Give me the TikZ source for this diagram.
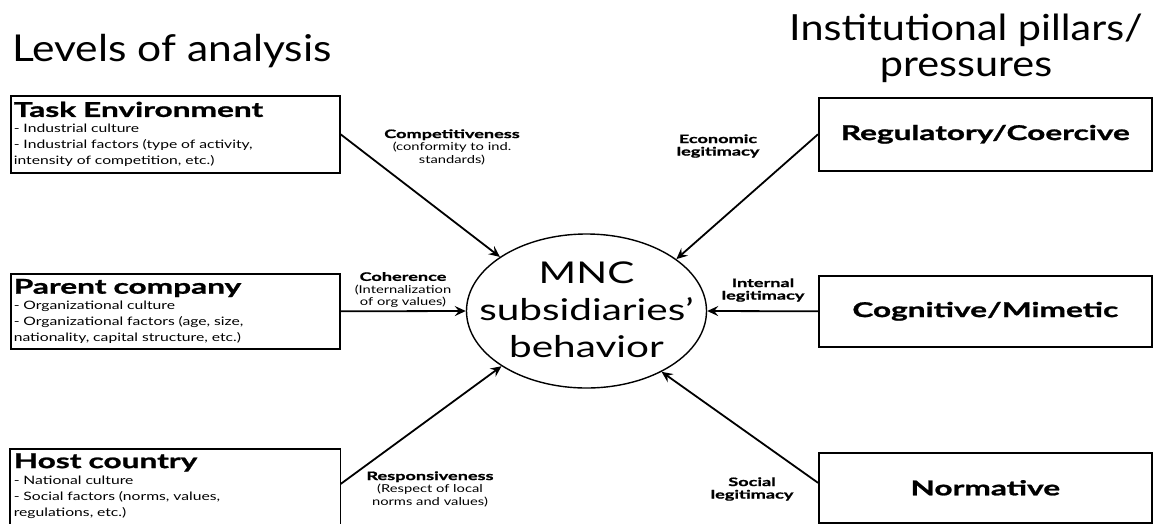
\documentclass[tikz,border=0pt]{standalone}
\usepackage{fontspec}
\setmainfont{Lato}
\newfontfamily\wide[FakeStretch=1.35]{Lato}
\newfontfamily\ttl[FakeStretch=1.15]{Lato}
\newfontfamily\heavy[FakeStretch=1.55,FakeBold=1.2]{Lato}
\usetikzlibrary{arrows.meta,shapes.geometric}
\begin{document}
\begin{tikzpicture}[x=1pt,y=-1pt,
  boxline/.style={draw=black,line width=1.6pt},
  lbox/.style={boxline,anchor=north west,minimum width=329pt,text width=323pt,inner xsep=3pt,inner ysep=0pt,align=left,font=\wide\fontsize{11.6}{16}\selectfont},
  rbox/.style={boxline,anchor=north west,minimum width=333pt,inner sep=0pt,font=\heavy\bfseries\fontsize{20.4}{20}\selectfont},
  lab/.style={align=center,inner sep=0pt,font=\wide\fontsize{10.9}{12.5}\selectfont},
  blab/.style={lab,font=\heavy\bfseries\fontsize{11.7}{12.5}\selectfont},
  title/.style={inner sep=0pt,anchor=base,font=\ttl\fontsize{36}{33}\selectfont},
  arr/.style={line width=1.8pt,-{Stealth[length=11pt,width=10pt,inset=4pt]}}]
\newcommand\hd[1]{{\heavy\bfseries\fontsize{20.4}{16}\selectfont #1}}
\newcommand\bl[1]{{\heavy\bfseries\fontsize{11.7}{12.5}\selectfont #1}}
\newcommand\hsp{\hspace{7pt}}
\useasboundingbox (0,0) rectangle (1153,523);
% titles
\node[title,anchor=base west,font=\ttl\fontsize{37}{33}\selectfont] (t1) at (12,61) {Levels of analysis};
\node[title] (t2a) at (966,40) {Institutional pillars/};
\node[title] (t2b) at (966,76) {pressures};
% left boxes
\node[lbox,minimum height=77pt] (task) at (10,95) {\hd{Task\hsp Environment}\\- Industrial culture\\- Industrial factors (type of activity,\\intensity of competition, etc.)};
\node[lbox,minimum height=75pt] (parent) at (10,273) {\hd{Parent\hsp company}\\- Organizational culture\\- Organizational factors (age, size,\\nationality, capital structure, etc.)};
\node[lbox,draw=none,minimum height=72pt] (host) at (10,449) {\hd{Host\hsp country}\\- National culture\\- Social factors (norms, values,\\regulations, etc.)};
\draw[boxline] (host.north west) rectangle ([yshift=-30pt]host.south east);
% right boxes
\node[rbox,minimum height=73pt] (reg) at (818,97) {Regulatory/Coercive};
\node[rbox,minimum height=71pt] (cog) at (818,275) {Cognitive/Mimetic};
\node[rbox,minimum height=70pt] (norm) at (818,452) {Normative};
% centre
\node[ellipse,draw=black,line width=1.4pt,minimum width=240pt,minimum height=154pt,inner sep=0pt] (mnc) at (586.5,311) {};
\node[align=center,inner sep=0pt,anchor=base,font=\wide\fontsize{30}{37}\selectfont] (mnctext) at (586.5,357) {MNC\\subsidiaries’\\behavior};
% connectors
\coordinate (hostout) at ([yshift=-35pt]host.north east);
\coordinate (normout) at ([yshift=5pt]norm.west);
\draw[arr] (task.east) -- (mnc.148);
\draw[arr] (parent.east) -- (mnc.180);
\draw[arr] (hostout) -- (mnc.213);
\draw[arr] (reg.west) -- (mnc.30);
\draw[arr] (cog.west) -- (mnc.0);
\draw[arr] (normout) -- (mnc.321);
% labels
\node[lab] (l1) at (452,147) {\bl{Competitiveness}\\(conformity to ind.\\standards)};
\node[lab] (l2) at (403,290) {\bl{Coherence}\\(Internalization\\of org values)};
\node[lab] (l3) at (430,489) {\bl{Responsiveness}\\(Respect of local\\norms and values)};
\node[blab] (l4) at (718,146) {Economic\\legitimacy};
\node[blab] (l5) at (763,290) {Internal\\legitimacy};
\node[blab] (l6) at (752,489) {Social\\legitimacy};
\end{tikzpicture}
\end{document}
